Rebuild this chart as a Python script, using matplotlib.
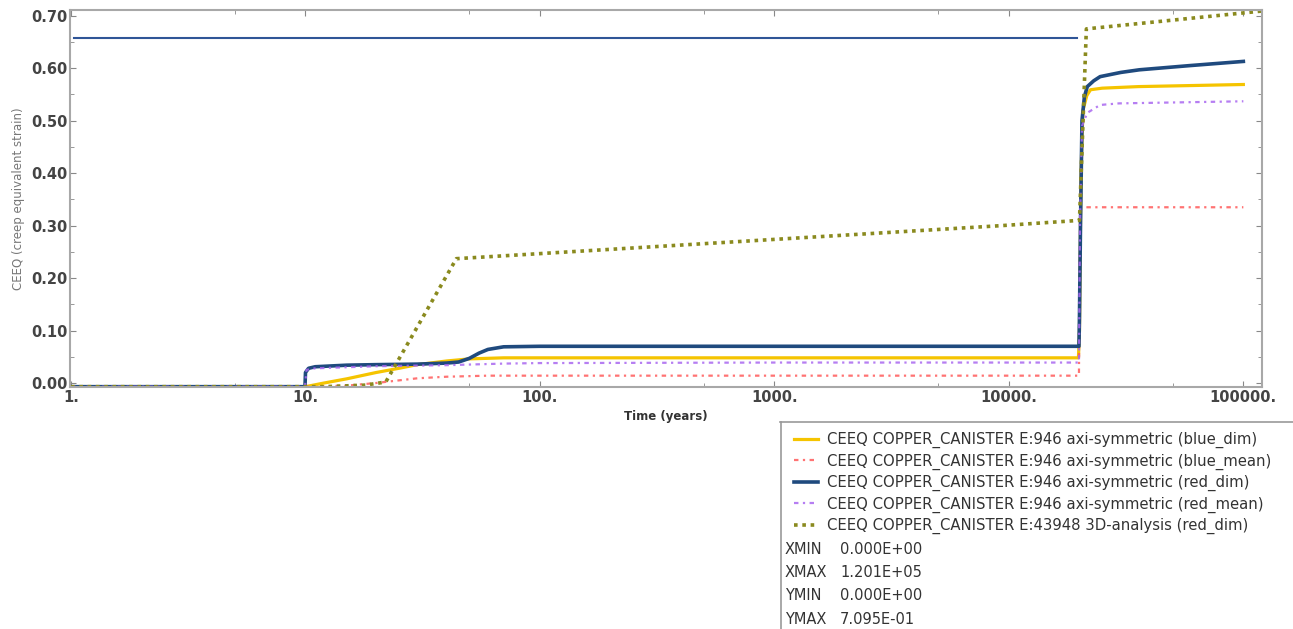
import matplotlib
matplotlib.use("Agg")
import matplotlib.pyplot as plt
from matplotlib.lines import Line2D
from matplotlib.ticker import FixedLocator, FuncFormatter, MultipleLocator

# blue_dim (yellow)
x_bdim = [1, 10, 12, 15, 20, 25, 30, 40, 50, 70, 100, 1000, 10000, 19800, 20000, 20300,
          20700, 21500, 22300, 25000, 35700, 60000, 100000]
y_bdim = [-0.007, -0.007, 0.0, 0.008, 0.02, 0.028, 0.035, 0.042, 0.046, 0.048, 0.048, 0.048,
          0.048, 0.048, 0.10, 0.40, 0.52, 0.548, 0.559, 0.562, 0.565, 0.567, 0.569]

# blue_mean (red dash-dot)
x_bmean = [1, 10, 15, 20, 25, 30, 40, 60, 100, 1000, 19900, 20000, 20300, 100000]
y_bmean = [-0.007, -0.007, -0.005, 0.0, 0.005, 0.009, 0.012, 0.014, 0.014, 0.014, 0.014,
           0.2, 0.335, 0.335]

# red_dim (dark blue)
x_rdim = [1, 9.95, 10, 10.3, 11, 15, 20, 30, 40, 45, 50, 55, 60, 70, 100, 1000, 10000,
          19900, 20000, 20200, 20500, 21000, 21600, 23000, 24500, 30000, 36000, 59000, 100000]
y_rdim = [-0.007, -0.007, 0.02, 0.028, 0.031, 0.034, 0.035, 0.036, 0.038, 0.040, 0.047,
          0.057, 0.064, 0.069, 0.070, 0.070, 0.070, 0.070, 0.125, 0.30, 0.50, 0.546, 0.565,
          0.576, 0.584, 0.592, 0.597, 0.605, 0.613]

# red_mean (purple dash-dot)
x_rmean = [1, 9.95, 10.1, 11, 20, 40, 70, 100, 1000, 19900, 20100, 20500, 21600, 24500,
           29500, 100000]
y_rmean = [-0.007, -0.007, 0.025, 0.028, 0.032, 0.034, 0.037, 0.038, 0.039, 0.039, 0.30,
           0.49, 0.515, 0.530, 0.533, 0.537]

# 3D analysis red_dim (olive dotted)
x_3d = [1, 12, 18, 22, 44, 9300, 20000, 21400, 120000]
y_3d = [-0.007, -0.007, -0.004, 0.002, 0.237, 0.300, 0.310, 0.675, 0.709]

# horizontal reference line
x_ref = [1.03, 19500]
y_ref = [0.658, 0.658]

labels = [
    "CEEQ COPPER_CANISTER E:946 axi-symmetric (blue_dim)",
    "CEEQ COPPER_CANISTER E:946 axi-symmetric (blue_mean)",
    "CEEQ COPPER_CANISTER E:946 axi-symmetric (red_dim)",
    "CEEQ COPPER_CANISTER E:946 axi-symmetric (red_mean)",
    "CEEQ COPPER_CANISTER E:43948 3D-analysis (red_dim)",
]
x_ticks = [1, 10, 100, 1000, 10000, 100000]
x_minor = [5, 50, 500, 5000, 50000]
info_names = ["XMIN", "XMAX", "YMIN", "YMAX"]
info_values = ["0.000E+00", "1.201E+05", "0.000E+00", "7.095E-01"]

fig = plt.figure(figsize=(12.93, 6.29), dpi=100)
ax = fig.add_axes([70 / 1293, 1 - 387 / 629, 1192 / 1293, 377 / 629])

ax.plot(x_ref, y_ref, color="#2F5597", lw=1.5)
h1, = ax.plot(x_bdim, y_bdim, color="#F5C400", lw=2.3)
h2, = ax.plot(x_bmean, y_bmean, color="#FF5A5A", lw=1.6, ls=(0, (2, 2, 1, 2)), alpha=0.85)
h3, = ax.plot(x_rdim, y_rdim, color="#1F4A7E", lw=2.6)
h4, = ax.plot(x_rmean, y_rmean, color="#A967F0", lw=1.6, ls=(0, (2, 2, 1, 2)), alpha=0.85)
h5, = ax.plot(x_3d, y_3d, color="#8A8A1E", lw=2.6, ls=(0, (1, 1.3)))

ax.set_xscale("log")
ax.set_xlim(0.99, 1.201e5)
ax.set_ylim(-0.0076, 0.711)
ax.xaxis.set_major_locator(FixedLocator(x_ticks))
ax.xaxis.set_minor_locator(FixedLocator(x_minor))
ax.xaxis.set_major_formatter(FuncFormatter(lambda v, p: "%d." % round(v)))
ax.xaxis.set_minor_formatter(FuncFormatter(lambda v, p: ""))
ax.yaxis.set_major_locator(MultipleLocator(0.1))
ax.yaxis.set_minor_locator(MultipleLocator(0.05))
ax.yaxis.set_major_formatter(FuncFormatter(lambda v, p: "%.2f" % v))

ax.tick_params(which="both", direction="in", top=True, right=True, color="#888888",
               labelsize=10.5, labelcolor="#444444", pad=2)
ax.tick_params(which="major", length=4)
ax.tick_params(which="minor", length=3)
for lab in ax.get_xticklabels() + ax.get_yticklabels():
    lab.set_fontweight("bold")
for s in ax.spines.values():
    s.set_color("#A8A8A8")
    s.set_linewidth(1.5)

ax.set_ylabel("CEEQ (creep equivalent strain)", fontsize=8.5, color="#777777", labelpad=4)
ax.set_xlabel("Time (years)", fontsize=8.5, fontweight="bold", color="#333333", labelpad=4)

# legend / info box
fig.add_artist(Line2D([780 / 1293, 1], [1 - 422 / 629] * 2, color="#999999", lw=1.2))
fig.add_artist(Line2D([781 / 1293] * 2, [0, 1 - 422 / 629], color="#999999", lw=1.2))
leg = fig.legend([h1, h2, h3, h4, h5], labels, loc="upper left",
                 bbox_to_anchor=(785 / 1293, 1 - 423 / 629), frameon=False,
                 fontsize=10.7, handlelength=1.65, handletextpad=0.6, labelspacing=0.36,
                 borderpad=0.1)
for t in leg.get_texts():
    t.set_color("#333333")

for i in range(4):
    yy = 1 - (549 + i * 23.5) / 629
    fig.text(785 / 1293, yy, info_names[i], fontsize=10.5, color="#333333", va="center")
    fig.text(840 / 1293, yy, info_values[i], fontsize=10.5, color="#333333", va="center")

fig.savefig("out.png", dpi=100)
